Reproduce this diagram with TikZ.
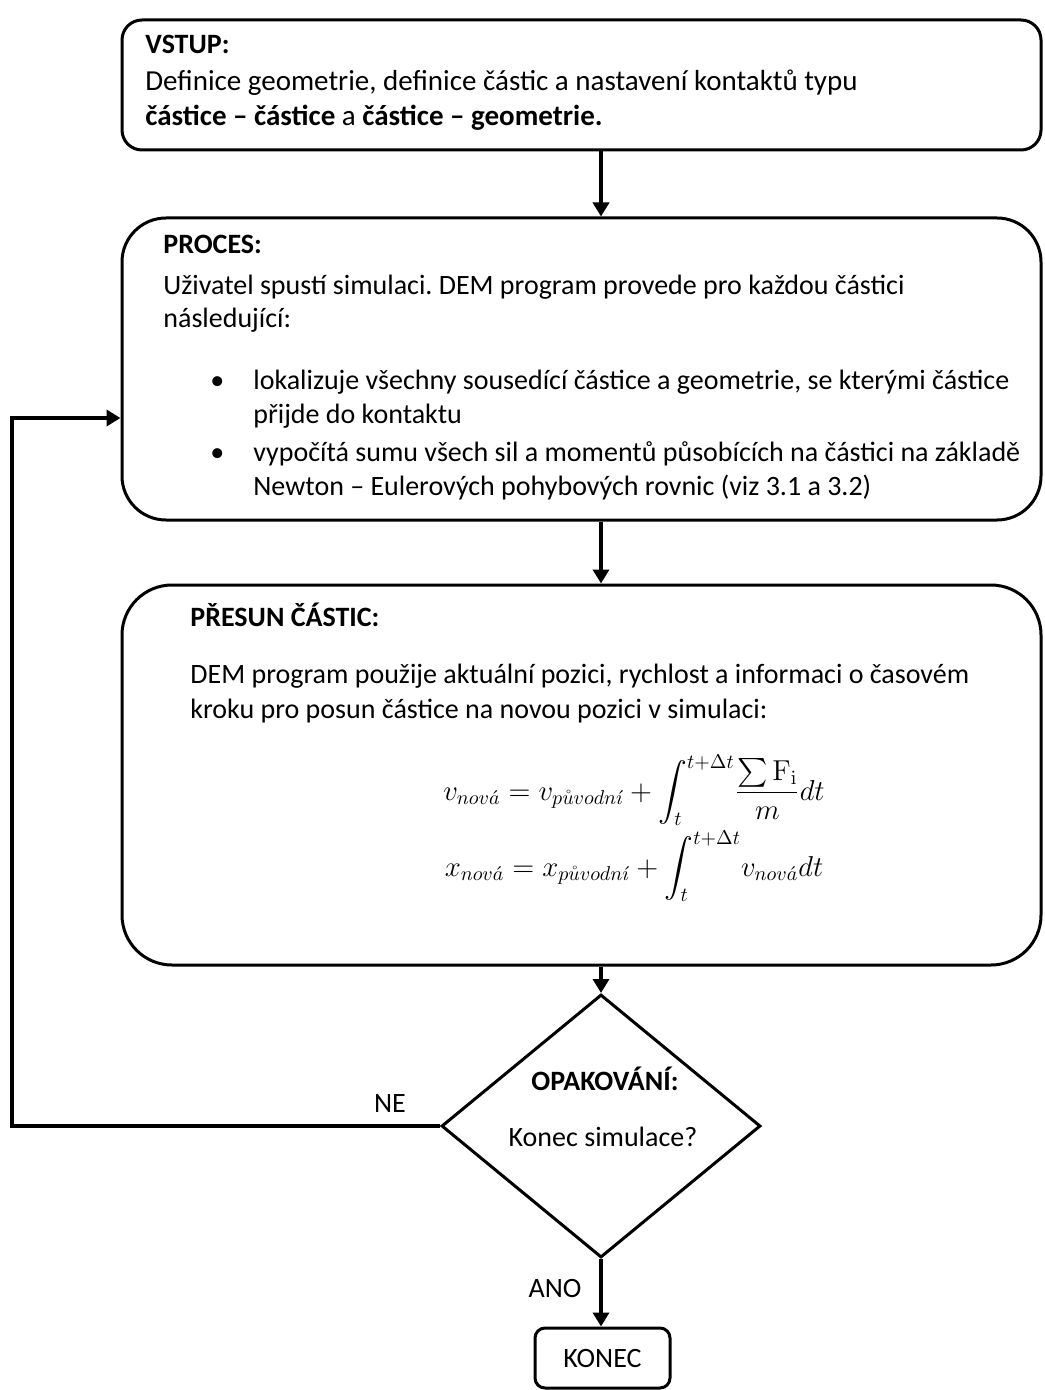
\documentclass[tikz,border=0pt]{standalone}
\usepackage{amsmath}
\usepackage{amssymb}
\usepackage[no-math]{fontspec}
\setmainfont{Carlito}
\frenchspacing
\usetikzlibrary{shapes.geometric,arrows.meta,positioning,calc}

\begin{document}
\begin{tikzpicture}[
	x=0.5pt, y=-0.5pt,
	>={Triangle[length=7pt,width=8pt]},
	font=\fontsize{14}{17}\selectfont,
	block/.style={draw, line width=1.5pt, rounded corners=#1, inner sep=0pt,
		minimum width=459.5pt},
	txt/.style={anchor=base west, inner sep=0pt},
	lbl/.style={anchor=base, inner sep=0pt},
	flow/.style={->, line width=2.2pt},
	eq/.style={anchor=base, inner sep=0pt, font=\fontsize{14.4}{17}\selectfont}
	]
	\useasboundingbox (0,0) rectangle (1044,1390);

	% bloky
	\node[block=10pt, minimum height=65pt] (vstup) at (581.5,85) {};
	\node[block=22pt, minimum height=151pt] (proces) at (581.5,369) {};
	\node[block=25pt, minimum height=190pt] (presun) at (581.5,775) {};
	\node[draw, diamond, line width=1.5pt, inner sep=0pt,
		minimum width=159.5pt, minimum height=131.5pt] (opak) at (601,1126) {};
	\node[block=5pt, minimum width=67.5pt, minimum height=30pt] (konec) at (602.5,1358) {KONEC};

	% VSTUP
	\node[txt] (vstup1) at (145,54) {\textbf{VSTUP:}};
	\node[txt, font=\fontsize{14.5}{17}\selectfont] (vstup2) at (145,91) {Definice geometrie, definice částic a nastavení kontaktů typu};
	\node[txt, font=\fontsize{14.5}{17}\selectfont] (vstup3) at (145,126) {\textbf{částice – částice} a \textbf{částice – geometrie.}};

	% PROCES
	\node[txt] (proc1) at (163,254) {\textbf{PROCES:}};
	\node[txt] (proc2) at (163,295) {Uživatel spustí simulaci. DEM program provede pro každou částici};
	\node[txt] (proc3) at (163,328) {následující:};
	\node[txt] (bul1) at (210,389) {\textbullet};
	\node[txt] (proc4) at (253,389) {lokalizuje všechny sousedící částice a geometrie, se kterými částice};
	\node[txt] (proc5) at (253,423) {přijde do kontaktu};
	\node[txt] (bul2) at (210,461) {\textbullet};
	\node[txt] (proc6) at (253,461) {vypočítá sumu všech sil a momentů působících na částici na základě};
	\node[txt] (proc7) at (253,495) {Newton – Eulerových pohybových rovnic (viz 3.1 a 3.2)};

	% PRESUN
	\node[txt] (pres1) at (190,626) {\textbf{PŘESUN ČÁSTIC:}};
	\node[txt] (pres2) at (190,683) {DEM program použije aktuální pozici, rychlost a informaci o časovém};
	\node[txt] (pres3) at (190,718) {kroku pro posun částice na novou pozici v simulaci:};
	\node[eq] (rov1) at (634,800)
		{$\displaystyle v_{nov\acute{a}} = v_{p\mathring{u}vodn\acute{\imath}} + \int_t^{t+\Delta t}\!\frac{\sum \mathrm{F_i}}{m}dt$};
	\node[eq] (rov2) at (634,876)
		{$\displaystyle x_{nov\acute{a}} = x_{p\mathring{u}vodn\acute{\imath}} + \int_t^{t+\Delta t}\! v_{nov\acute{a}}dt$};

	% rozhodnuti
	\node[lbl] (opak1) at (605,1090) {\textbf{OPAKOVÁNÍ:}};
	\node[lbl] (opak2) at (603,1146) {Konec simulace?};
	\node[lbl] (ne) at (390,1112) {NE};
	\node[lbl] (ano) at (555,1297) {ANO};

	\coordinate (zpet) at (12,418);

	\draw[flow] (vstup.south -| opak.north) -- (proces.north -| opak.north);
	\draw[flow] (proces.south -| opak.north) -- (presun.north -| opak.north);
	\draw[flow] (presun.south -| opak.north) -- (opak.north);
	\draw[flow] (opak.south) -- (konec.north -| opak.south);
	\draw[flow] (opak.west) -| (zpet) -- (proces.west |- zpet);
\end{tikzpicture}
\end{document}
